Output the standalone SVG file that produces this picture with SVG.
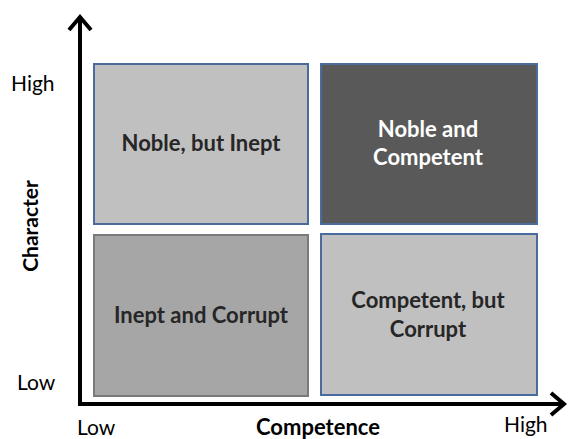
<svg xmlns="http://www.w3.org/2000/svg" width="570" height="439" viewBox="0 0 570 439">
<style>
.box{stroke-width:2}
.lbl{font-family:Lato,"Open Sans","Liberation Sans",sans-serif;font-weight:bold;font-size:22px;text-anchor:middle;fill:#262626}
.ax{font-family:Lato,"Open Sans","Liberation Sans",sans-serif;font-size:21px;fill:#000}
.axb{font-family:Lato,"Open Sans","Liberation Sans",sans-serif;font-size:21px;font-weight:bold;fill:#000}
.axis{stroke:#000;stroke-width:4;fill:none}
</style>
<rect width="570" height="439" fill="#fff"/>
<g id="connectors">
<path class="axis" d="M80 17 V404 H564"/>
<path class="axis" d="M69 30 L80 17 L91 30" stroke-linejoin="miter"/>
<path class="axis" d="M551 393 L564 404 L551 415" stroke-linejoin="miter"/>
</g>
<g id="noble-inept">
<rect class="box" x="94" y="64" width="214" height="160" fill="#c0c0c0" stroke="#4a6c9c"/>
<text class="lbl" x="201" y="151">Noble, but Inept</text>
</g>
<g id="noble-competent">
<rect class="box" x="321" y="64" width="216" height="160" fill="#595959" stroke="#4a6c9c"/>
<text class="lbl" x="428" y="137" style="fill:#fff">Noble and</text>
<text class="lbl" x="428" y="165" style="fill:#fff">Competent</text>
</g>
<g id="inept-corrupt">
<rect class="box" x="94" y="235" width="214" height="161" fill="#a6a6a6" stroke="#7a7a7a"/>
<text class="lbl" x="201" y="323">Inept and Corrupt</text>
</g>
<g id="competent-corrupt">
<rect class="box" x="321" y="234" width="216" height="161" fill="#c0c0c0" stroke="#4a6c9c"/>
<text class="lbl" x="428" y="308">Competent, but</text>
<text class="lbl" x="428" y="337">Corrupt</text>
</g>
<g id="labels">
<text class="ax" x="11" y="91">High</text>
<text class="ax" x="17" y="390">Low</text>
<text class="ax" x="77" y="435">Low</text>
<text class="axb" x="318" y="435" text-anchor="middle" style="font-size:22px">Competence</text>
<text class="ax" x="504" y="432">High</text>
<text class="axb" x="38" y="226" text-anchor="middle" transform="rotate(-90 38 226)">Character</text>
</g>
</svg>
